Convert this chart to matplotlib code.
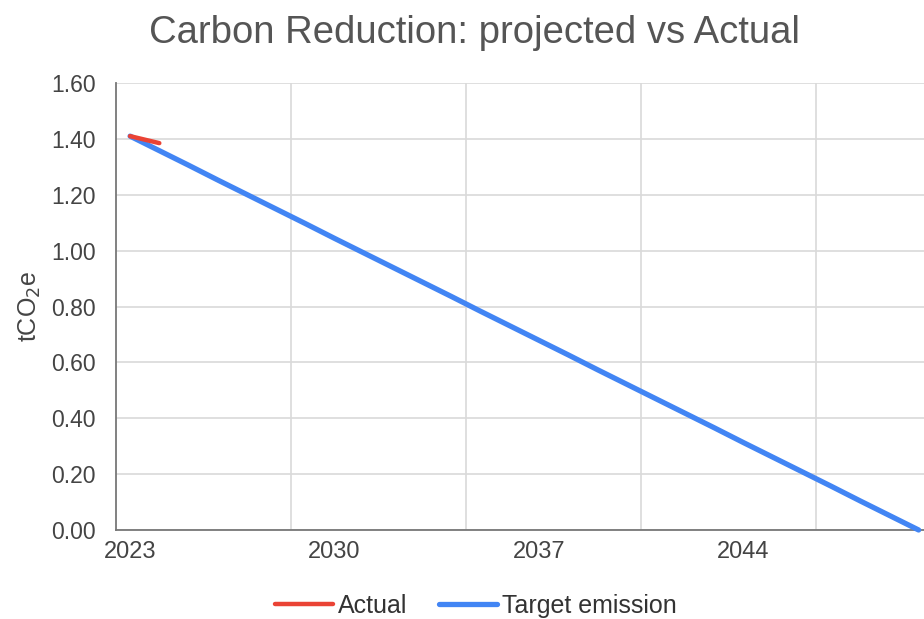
import matplotlib.pyplot as plt

plt.rcParams['font.family'] = ['Liberation Sans', 'DejaVu Sans']

years = list(range(2023, 2051))
target = [1.410, 1.358, 1.306, 1.253, 1.201, 1.149, 1.097, 1.044, 0.992, 0.940,
          0.888, 0.836, 0.783, 0.731, 0.679, 0.627, 0.574, 0.522, 0.470, 0.418,
          0.366, 0.313, 0.261, 0.209, 0.157, 0.104, 0.052, 0.000]
actual_years = [2023, 2024]
actual = [1.41, 1.385]
xtick_years = [2023, 2030, 2037, 2044]
ytick_vals = [0.0, 0.2, 0.4, 0.6, 0.8, 1.0, 1.2, 1.4, 1.6]

fig = plt.figure(figsize=(9.24, 6.19), dpi=100)
ax = fig.add_axes([0.125, 0.1438, 0.885, 0.722])

ax.plot(years, target, color='#4285f4', lw=3.8, solid_capstyle='round',
        label='Target emission', zorder=3, clip_on=False)
ax.plot(actual_years, actual, color='#ea4335', lw=3.2, solid_capstyle='round',
        label='Actual', zorder=4)

ax.set_xlim(2022.5, 2050.5)
ax.set_ylim(0, 1.6)
ax.set_xticks(xtick_years)
ax.set_xticklabels([str(y) for y in xtick_years])
ax.set_yticks(ytick_vals)
ax.set_yticklabels(['%.2f' % v for v in ytick_vals])

# vertical gridlines sit between categories, every 6 years
for gx in [2028.5, 2034.5, 2040.5, 2046.5]:
    ax.axvline(gx, color='#d9d9d9', lw=1.2, zorder=1)
ax.grid(axis='y', color='#d9d9d9', lw=1.2, zorder=1)

for s in ['top', 'right']:
    ax.spines[s].set_visible(False)
ax.spines['left'].set_color('#777777')
ax.spines['bottom'].set_color('#777777')
ax.spines['left'].set_linewidth(1.3)
ax.spines['bottom'].set_linewidth(1.3)
ax.tick_params(axis='x', length=0, labelsize=17, labelcolor='#444444', pad=8)
ax.tick_params(axis='y', length=0, labelsize=16.5, labelcolor='#444444', pad=14)

ax.set_ylabel('tCO$_2$e', fontsize=18, color='#444444', labelpad=6)
fig.suptitle('Carbon Reduction: projected vs Actual', fontsize=27.5,
             color='#555555', x=0.513, y=0.975)

handles, labels = ax.get_legend_handles_labels()
fig.legend(handles[::-1], labels[::-1], loc='lower center', ncol=2,
           bbox_to_anchor=(0.515, -0.035), frameon=False, fontsize=18,
           labelcolor='#333333', handlelength=2.3, handletextpad=0.2,
           columnspacing=1.3)

fig.savefig('out.png', dpi=100)
